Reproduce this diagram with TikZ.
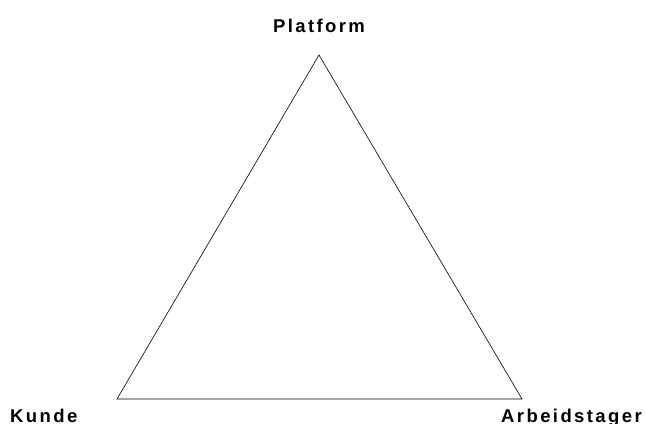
\documentclass[tikz,border=0pt]{standalone}
\usepackage{fontspec}
\usepackage{tikz}
\newfontfamily\labelfont[LetterSpace=13]{Liberation Sans}
\tikzset{corner label/.style={inner sep=0pt,font=\labelfont\bfseries\fontsize{18.5}{21}\selectfont}}

\begin{document}
\begin{tikzpicture}[x=1pt,y=1pt]
    \useasboundingbox (0,0) rectangle (645,423);
    \path (319,368) coordinate (P) (117,24) coordinate (K) (522,24) coordinate (A);
    \draw[line width=0.6pt,line join=miter] (P) -- (K) -- (A) -- cycle;
    \node[corner label,anchor=base] (platform) at (319,390) {Platform};
    \node[corner label,anchor=base west] (kunde) at (10,1) {Kunde};
    \node[corner label,anchor=base west] (arbeidstager) at (501,1) {Arbeidstager};
\end{tikzpicture}
\end{document}
